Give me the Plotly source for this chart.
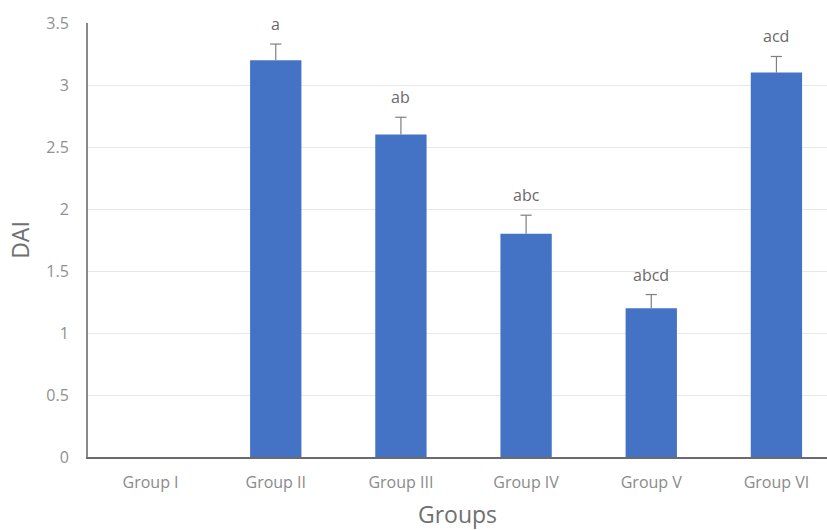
import plotly.graph_objects as go

groups = ["Group I", "Group II", "Group III", "Group IV", "Group V", "Group VI"]
dai = [0, 3.2, 2.6, 1.8, 1.2, 3.1]
err = [0, 0.13, 0.14, 0.15, 0.11, 0.13]
letters = ["", "a", "ab", "abc", "abcd", "acd"]

FONT = "Open Sans"
fig = go.Figure()
fig.add_trace(go.Bar(
    x=groups, y=dai, width=0.41,
    marker=dict(color="#4472C4", line=dict(width=0)),
))

# upward-only error bars (whisker + top cap)
wx, wy, cx, cy = [], [], [], []
for g, v, e in zip(groups, dai, err):
    if e > 0:
        wx += [g, g, None]
        wy += [v, v + e, None]
        cx.append(g)
        cy.append(v + e)
fig.add_trace(go.Scatter(x=wx, y=wy, mode="lines",
                         line=dict(color="#7f7f7f", width=1.2), hoverinfo="skip"))
fig.add_trace(go.Scatter(x=cx, y=cy, mode="markers",
                         marker=dict(symbol="line-ew", size=8,
                                     line=dict(color="#7f7f7f", width=1.2)),
                         hoverinfo="skip"))

for g, v, e, t in zip(groups, dai, err, letters):
    if t:
        fig.add_annotation(x=g, y=v + e, text=t, showarrow=False,
                           yanchor="middle", yshift=20,
                           font=dict(family=FONT, size=16, color="#6a6a6a"))

fig.update_layout(
    width=827, height=530,
    margin=dict(l=88, r=0, t=23, b=73),
    paper_bgcolor="white", plot_bgcolor="white",
    showlegend=False,
    font=dict(family=FONT, color="#7a7a7a"),
    xaxis=dict(
        range=[-0.5, 5.404], showgrid=False,
        showline=True, linecolor="#6b6b6b", linewidth=2,
        tickfont=dict(size=16, color="#8a8a8a"),
        ticks="outside", ticklen=10, tickcolor="rgba(0,0,0,0)",
        title=dict(text="Groups", font=dict(size=23, color="#707070"), standoff=15),
    ),
    yaxis=dict(
        range=[0, 3.5], dtick=0.5, tickformat="~g",
        showgrid=True, gridcolor="#e8e8e8", gridwidth=1,
        showline=True, linecolor="#8a8a8a", linewidth=2,
        zeroline=False,
        tickfont=dict(size=16, color="#909090"),
        ticks="outside", ticklen=14, tickcolor="rgba(0,0,0,0)",
        title=dict(text="DAI", font=dict(size=23, color="#707070"), standoff=10),
    ),
)
fig.write_html("out.html")
